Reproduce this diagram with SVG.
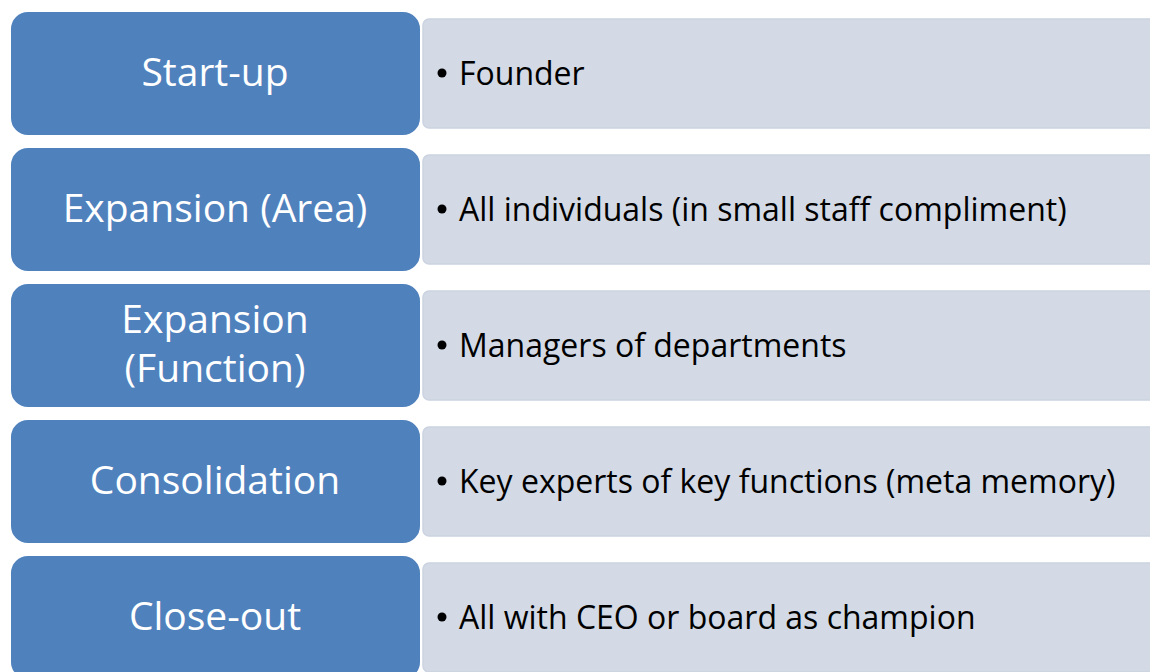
<svg xmlns="http://www.w3.org/2000/svg" width="1150" height="672" viewBox="0 0 1150 672">
<style>
.blue{fill:#4F81BD;stroke:#FFFFFF;stroke-width:2}
.panel{fill:#D3DAE6;stroke:#CCD3E0;stroke-width:1.5}
.lt{font-family:"Open Sans","Liberation Sans",sans-serif;font-size:39px;fill:#FFFFFF;text-anchor:middle}
.rt{font-family:"Open Sans","Liberation Sans",sans-serif;font-size:32px;fill:#000000}
.dot{fill:#000000}
</style>
<rect width="1150" height="672" fill="#FFFFFF"/>
<g id="row1">
<rect class="panel" x="423" y="19" width="740" height="109" rx="6"/>
<rect class="blue" x="10" y="11" width="411" height="125" rx="18"/>
<text class="lt" x="215" y="86">Start-up</text>
<circle class="dot" cx="442" cy="73" r="4.5"/>
<text class="rt" x="459" y="85">Founder</text>
</g>
<g id="row2">
<rect class="panel" x="423" y="155" width="740" height="109" rx="6"/>
<rect class="blue" x="10" y="147" width="411" height="125" rx="18"/>
<text class="lt" x="215" y="222">Expansion (Area)</text>
<circle class="dot" cx="442" cy="209" r="4.5"/>
<text class="rt" x="459" y="221">All individuals (in small staff compliment)</text>
</g>
<g id="row3">
<rect class="panel" x="423" y="291" width="740" height="109" rx="6"/>
<rect class="blue" x="10" y="283" width="411" height="125" rx="18"/>
<text class="lt" x="215" y="333">Expansion</text>
<text class="lt" x="215" y="382">(Function)</text>
<circle class="dot" cx="442" cy="345" r="4.5"/>
<text class="rt" x="459" y="357">Managers of departments</text>
</g>
<g id="row4">
<rect class="panel" x="423" y="427" width="740" height="109" rx="6"/>
<rect class="blue" x="10" y="419" width="411" height="125" rx="18"/>
<text class="lt" x="215" y="494">Consolidation</text>
<circle class="dot" cx="442" cy="481" r="4.5"/>
<text class="rt" x="459" y="493">Key experts of key functions (meta memory)</text>
</g>
<g id="row5">
<rect class="panel" x="423" y="563" width="740" height="109" rx="6"/>
<rect class="blue" x="10" y="555" width="411" height="125" rx="18"/>
<text class="lt" x="215" y="630">Close-out</text>
<circle class="dot" cx="442" cy="617" r="4.5"/>
<text class="rt" x="459" y="629">All with CEO or board as champion</text>
</g>
<g id="connectors"/>
</svg>
